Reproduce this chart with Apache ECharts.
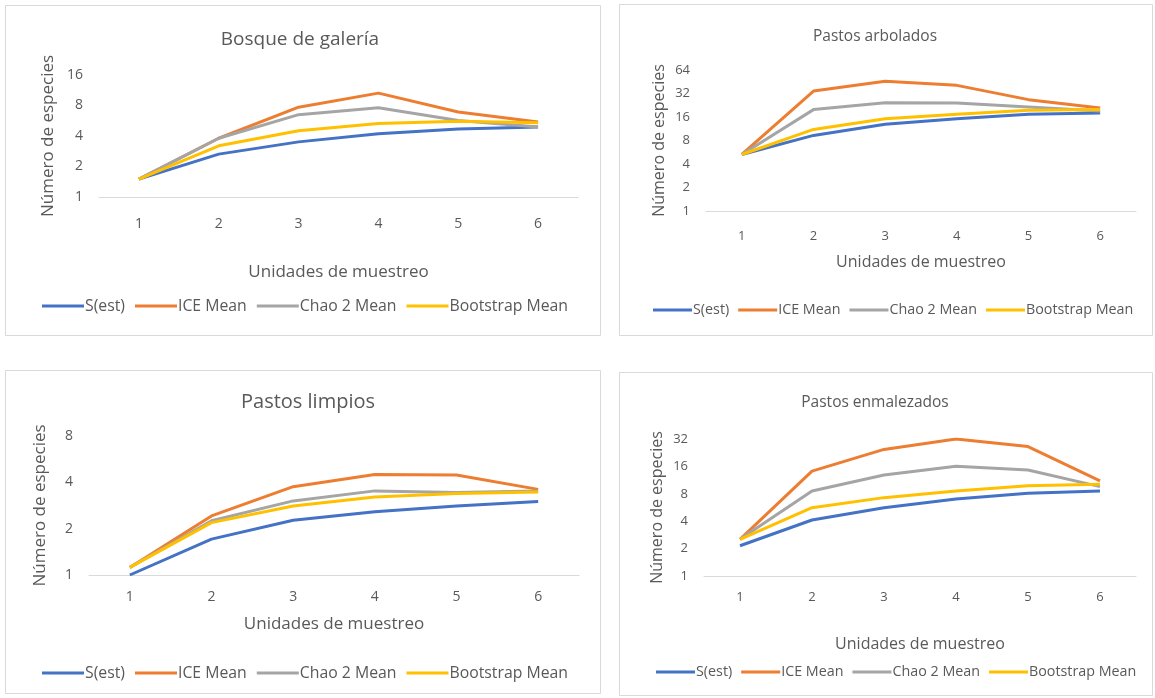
<!DOCTYPE html>
<html>
<head>
<meta charset="utf-8">
<script src="https://cdn.jsdelivr.net/npm/echarts@6/dist/echarts.min.js"></script>
<style>
  html, body { margin: 0; padding: 0; background: #ffffff; }
  #chart { width: 1155px; height: 698px; }
</style>
</head>
<body>
<div id="chart"></div>
<script>
// Sampling units on the x axis
const categories = ['1', '2', '3', '4', '5', '6'];
const seriesNames = ['S(est)', 'ICE Mean', 'Chao 2 Mean', 'Bootstrap Mean'];
const seriesColors = ['#4472C4', '#ED7D31', '#A5A5A5', '#FFC000'];

// Bosque de galería
const bosqueSest = [1.5, 2.65, 3.5, 4.2, 4.7, 4.9];
const bosqueIce = [1.5, 3.8, 7.7, 10.6, 6.9, 5.5];
const bosqueChao = [1.5, 3.8, 6.5, 7.6, 5.7, 4.9];
const bosqueBoot = [1.5, 3.2, 4.5, 5.3, 5.6, 5.4];

// Pastos arbolados
const arboladosSest = [5.3, 9.3, 12.9, 15.2, 17.3, 18.0];
const arboladosIce = [5.3, 34.4, 46.0, 40.7, 26.7, 20.9];
const arboladosChao = [5.3, 19.9, 24.4, 24.2, 21.5, 19.1];
const arboladosBoot = [5.3, 11.1, 15.2, 17.3, 19.5, 19.9];

// Pastos limpios
const limpiosSest = [1.0, 1.71, 2.27, 2.58, 2.81, 3.0];
const limpiosIce = [1.12, 2.42, 3.75, 4.5, 4.46, 3.6];
const limpiosChao = [1.12, 2.25, 3.03, 3.52, 3.43, 3.52];
const limpiosBoot = [1.12, 2.19, 2.81, 3.21, 3.38, 3.46];

// Pastos enmalezados
const enmalezadosSest = [2.15, 4.12, 5.63, 7.0, 8.1, 8.6];
const enmalezadosIce = [2.53, 14.2, 24.6, 32.0, 26.4, 11.1];
const enmalezadosChao = [2.53, 8.6, 12.9, 16.1, 14.6, 9.6];
const enmalezadosBoot = [2.53, 5.63, 7.26, 8.6, 9.8, 10.2];

// Y axis upper limits (log base 2, starting at 1)
const yMaxValues = [16, 64, 8, 32];

const FONT = '"Open Sans", "Noto Sans", sans-serif';
const TEXT = '#595959';

const panels = [
  {
    title: 'Bosque de galería', titleX: 295, titleY: 25, titleSize: 19,
    frame: [5, 5, 595, 330],
    grid: { left: 99, top: 75, width: 479, height: 122 },
    tickSize: 14, nameSize: 17, yNameGap: 42, xNameGap: 67, xLabelMargin: 20,
    legendLeft: 42, legendTop: 298, legendSize: 15.8, legendGap: 10, legendItem: 42,
    data: [bosqueSest, bosqueIce, bosqueChao, bosqueBoot]
  },
  {
    title: 'Pastos arbolados', titleX: 870, titleY: 24, titleSize: 15.5,
    frame: [619, 4, 533, 331],
    grid: { left: 706, top: 70, width: 430, height: 141 },
    tickSize: 13, nameSize: 16, yNameGap: 39, xNameGap: 43, xLabelMargin: 19,
    legendLeft: 653, legendTop: 303, legendSize: 14.3, legendGap: 9, legendItem: 39,
    data: [arboladosSest, arboladosIce, arboladosChao, arboladosBoot]
  },
  {
    title: 'Pastos limpios', titleX: 303, titleY: 387, titleSize: 20,
    frame: [5, 370, 595, 323],
    grid: { left: 89, top: 436, width: 490, height: 139 },
    tickSize: 14, nameSize: 17, yNameGap: 40, xNameGap: 41, xLabelMargin: 15,
    legendLeft: 42, legendTop: 665, legendSize: 15.8, legendGap: 10, legendItem: 42,
    data: [limpiosSest, limpiosIce, limpiosChao, limpiosBoot]
  },
  {
    title: 'Pastos enmalezados', titleX: 870, titleY: 390, titleSize: 15.5,
    frame: [619, 372, 533, 323],
    grid: { left: 704, top: 439, width: 432, height: 137 },
    tickSize: 13, nameSize: 16, yNameGap: 39, xNameGap: 60, xLabelMargin: 15,
    legendLeft: 656, legendTop: 665, legendSize: 14.3, legendGap: 9, legendItem: 39,
    data: [enmalezadosSest, enmalezadosIce, enmalezadosChao, enmalezadosBoot]
  }
];

const option = {
  animation: false,
  backgroundColor: '#ffffff',
  textStyle: { fontFamily: FONT },
  title: [],
  grid: [],
  xAxis: [],
  yAxis: [],
  legend: [],
  series: [],
  graphic: []
};

panels.forEach(function (p, i) {
  // chart frame
  option.graphic.push({
    type: 'rect', silent: true, z: -1,
    shape: { x: p.frame[0] + 0.5, y: p.frame[1] + 0.5, width: p.frame[2], height: p.frame[3] },
    style: { fill: '#ffffff', stroke: '#D9D9D9', lineWidth: 1 }
  });

  option.title.push({
    text: p.title, left: p.titleX, top: p.titleY, textAlign: 'center',
    textStyle: { color: TEXT, fontSize: p.titleSize, fontWeight: 'normal', fontFamily: FONT }
  });

  option.grid.push(Object.assign({ containLabel: false }, p.grid));

  option.xAxis.push({
    type: 'category', gridIndex: i, data: categories, boundaryGap: true,
    name: 'Unidades de muestreo', nameLocation: 'middle', nameGap: p.xNameGap,
    nameTextStyle: { color: TEXT, fontSize: p.nameSize, fontFamily: FONT },
    axisLine: { lineStyle: { color: '#D9D9D9', width: 1 } },
    axisTick: { show: false },
    axisLabel: { color: TEXT, fontSize: p.tickSize, margin: p.xLabelMargin, fontFamily: FONT },
    splitLine: { show: false }
  });

  const logSpan = Math.round(Math.log2(yMaxValues[i]));
  option.yAxis.push({
    type: 'log', logBase: 2, gridIndex: i, min: 1, max: yMaxValues[i], splitNumber: logSpan,
    name: 'Número de especies', nameLocation: 'middle', nameGap: p.yNameGap,
    nameTextStyle: { color: TEXT, fontSize: p.nameSize, fontFamily: FONT },
    axisLine: { show: false },
    axisTick: { show: false },
    splitLine: { show: false },
    axisLabel: { color: TEXT, fontSize: p.tickSize, margin: 16, fontFamily: FONT }
  });

  option.legend.push({
    left: p.legendLeft, top: p.legendTop, width: 600, padding: 0, orient: 'horizontal',
    data: seriesNames, icon: 'rect', itemWidth: p.legendItem, itemHeight: 3, itemGap: p.legendGap,
    selectedMode: false,
    textStyle: { color: TEXT, fontSize: p.legendSize, fontFamily: FONT, padding: [0, 0, 0, -4] }
  });

  p.data.forEach(function (values, k) {
    option.series.push({
      type: 'line', name: seriesNames[k], xAxisIndex: i, yAxisIndex: i,
      data: values, symbol: 'none', smooth: false,
      lineStyle: { color: seriesColors[k], width: 3, join: 'round' },
      itemStyle: { color: seriesColors[k] }
    });
  });
});

const chart = echarts.init(document.getElementById('chart'), null, { renderer: 'canvas' });
chart.setOption(option);
</script>
</body>
</html>
